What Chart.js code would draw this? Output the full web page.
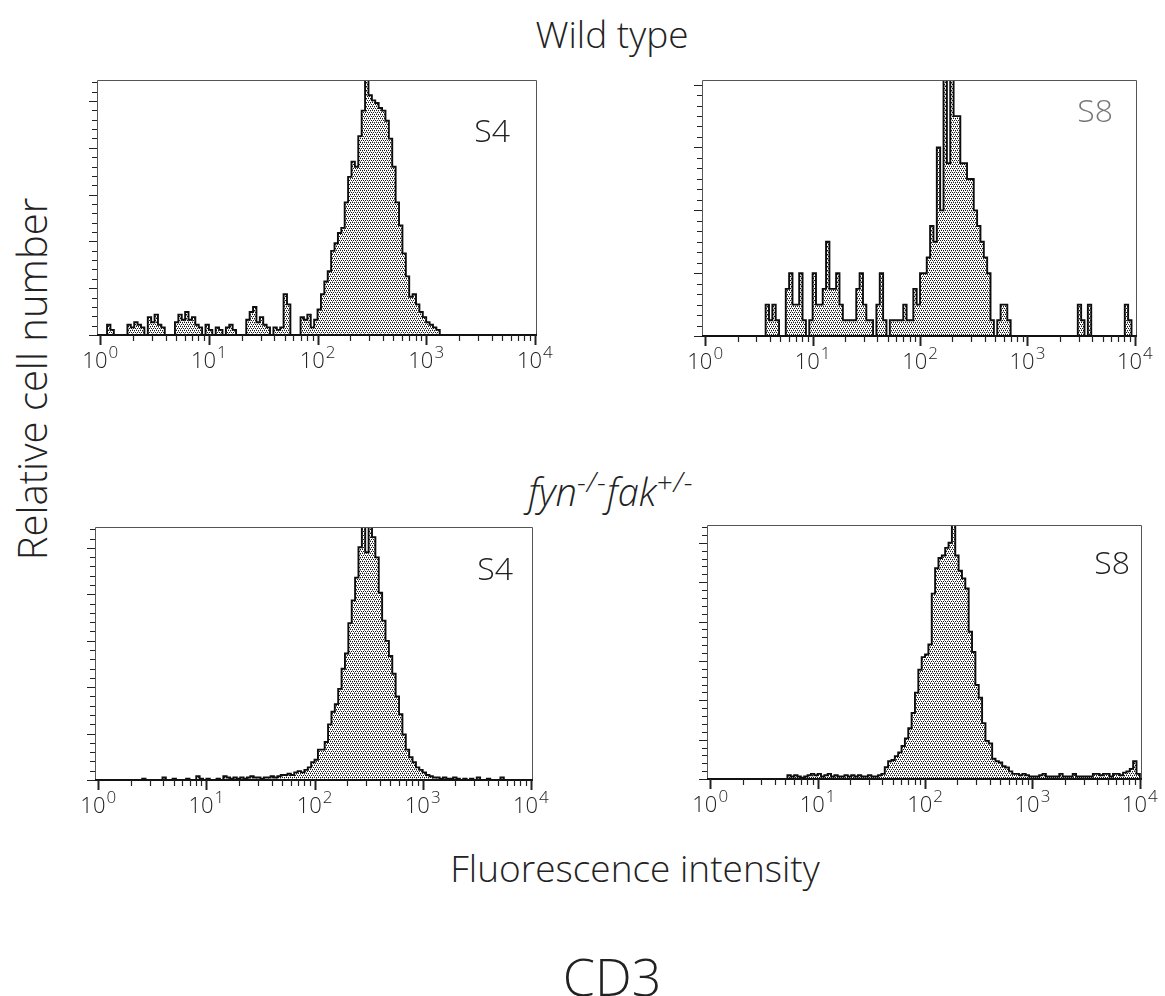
<!DOCTYPE html>
<html>
<head>
<meta charset="utf-8">
<title>CD3 expression, S4 and S8 populations</title>
<script src="https://cdn.jsdelivr.net/npm/chart.js@4.4.1/dist/chart.umd.min.js"></script>
<style>
  html, body { margin: 0; padding: 0; background: #fff; }
  body { width: 1165px; height: 996px; position: relative; overflow: hidden;
         font-family: "Open Sans", "DejaVu Sans", sans-serif; color: #222; }
  .t { position: absolute; white-space: nowrap; line-height: 1; text-align: center; font-weight: 300; }
  .t sup { font-size: 0.74em; vertical-align: 0.5em; line-height: 0; letter-spacing: 0.04em; }
  canvas { position: absolute; }
</style>
</head>
<body>
<div class="t" style="left:312px;width:600px;top:15px;font-size:37px;">Wild type</div>
<div class="t" style="left:311px;width:600px;top:472px;font-size:38px;"><i>fyn<sup>-/-</sup>fak<sup>+/-</sup></i></div>
<div class="t" style="left:-218px;width:500px;top:359px;font-size:40px;transform:rotate(-90deg);">Relative cell number</div>
<div class="t" style="left:335px;width:600px;top:849px;font-size:37px;">Fluorescence intensity</div>
<div class="t" style="left:312px;width:600px;top:950px;font-size:52px;">CD3</div>

<script>
// Histogram channels: 32 channels per decade over four decades (10^0 .. 10^4)
const BINS_PER_DECADE = 32;

// Decade tick exponents and minor tick multipliers for the log axis
const decadeExponents = [0, 1, 2, 3, 4];
const minorMultipliers = [2, 3, 4, 5, 6, 7, 8, 9];

// Wild type, S4 (relative height, 100 = full frame)
const wtS4Counts = [
  0, 0, 4, 2, 0, 0, 0, 0, 4, 3,
  5, 4, 3, 0, 7, 5, 8, 4, 3, 0,
  0, 0, 5, 8, 6, 9, 6, 7, 4, 3,
  0, 4, 2, 0, 3, 2, 0, 3, 4, 2,
  0, 0, 0, 6, 9, 11, 5, 7, 4, 3,
  0, 3, 2, 3, 16, 12, 0, 0, 0, 7,
  6, 8, 3, 6, 10, 16, 21, 25, 33, 36,
  40, 42, 52, 62, 68, 66, 78, 88, 104, 94,
  92, 91, 89, 88, 84, 77, 66, 52, 43, 32,
  23, 15, 16, 12, 9, 7, 5, 4, 3, 2,
  0, 0, 0, 0, 0, 0, 0, 0, 0, 0,
  0, 0, 0, 0, 0, 0, 0, 0, 0, 0,
  0, 0, 0, 0, 0, 0, 0, 0
];

// Wild type, S8 (cell counts per channel)
const wtS8Counts = [
  0, 0, 0, 0, 0, 0, 0, 0, 0, 0,
  0, 0, 0, 0, 0, 0, 0, 0, 2, 1,
  2, 1, 0, 0, 3, 4, 2, 2, 4, 1,
  0, 1, 4, 2, 2, 3, 6, 3, 3, 4,
  2, 1, 1, 1, 1, 3, 4, 2, 1, 1,
  0, 2, 4, 1, 0, 1, 1, 1, 1, 2,
  1, 1, 3, 2, 4, 4, 5, 7, 6, 12,
  8, 20, 11, 20, 14, 14, 11, 11, 10, 10,
  8, 7, 6, 5, 4, 1, 0, 1, 2, 2,
  1, 0, 0, 0, 0, 0, 0, 0, 0, 0,
  0, 0, 0, 0, 0, 0, 0, 0, 0, 0,
  0, 2, 1, 0, 2, 0, 0, 0, 0, 0,
  0, 0, 0, 0, 0, 2, 1, 0
];

// fyn-/- fak+/-, S4 (relative height)
const dkS4Counts = [
  0, 0, 0, 0, 0, 0, 0, 0, 0, 0,
  0, 0, 0, 0.5, 0, 0, 0, 0, 0, 1,
  0, 0, 0.5, 0, 0, 0, 0.5, 0, 0, 1.5,
  0.5, 0, 0.5, 0, 0, 0.5, 0, 1.5, 1, 0.5,
  1, 0.5, 1, 0.5, 1, 1.5, 1, 1, 0.5, 1,
  1, 1.5, 1, 1.5, 2, 2, 2.5, 2, 3, 3.5,
  3, 4, 5, 7, 8, 12, 12, 15, 22, 27,
  30, 36, 44, 50, 62, 71, 80, 92, 110, 90,
  110, 96, 88, 74, 63, 55, 49, 42, 33, 26,
  18, 12, 9, 7, 5, 4, 3, 2, 1.5, 1,
  1, 0.5, 1, 0.5, 0.5, 1, 0.5, 0, 0.5, 0,
  0.5, 0, 1, 0, 0, 0.5, 0, 0, 0, 1,
  0, 0, 0, 0, 0, 0, 0, 0
];

// fyn-/- fak+/-, S8 (relative height)
const dkS8Counts = [
  0, 0, 0, 0, 0, 0, 0, 0, 0, 0,
  0, 0, 0, 0, 0, 0, 0, 0, 0, 0,
  0, 0, 0, 1.5, 1, 1.5, 1, 0.5, 1, 1.5,
  2, 1.5, 2, 1, 1.5, 2, 1, 1.5, 1, 1,
  1.5, 1, 1.5, 1, 1.5, 1, 1, 1.5, 1, 1,
  1.5, 2, 4.6, 7, 7.5, 9, 10.5, 13, 16, 20,
  26, 34, 43, 48, 49, 53, 73, 83, 87, 88,
  91, 93, 102, 88, 82, 79, 75, 58, 50, 37,
  32, 22, 15, 14, 8, 7, 6.5, 5, 4.5, 3,
  2, 2, 1.5, 2, 1.5, 1, 1, 1, 1.5, 2,
  1, 1, 1, 1, 2, 1, 1, 1, 2, 1,
  1, 1, 1, 1, 2, 2, 1.5, 2, 2, 1,
  2, 2, 1.5, 2.5, 3, 4, 7, 2
];

// Frame placement of each panel on the page (left, top, right, bottom)
const panels = [
  { counts: wtS4Counts, box: [97, 80, 537, 335],  yMax: 100,  yStep: 3.67,  yMajorEvery: 5,
    tag: 'S4', tagDx: -27, tagDy: 62, tagColor: '#222' },
  { counts: wtS8Counts, box: [702, 80, 1137, 336], yMax: 16.3, yStep: 0.667, yMajorEvery: 6,
    tag: 'S8', tagDx: -24, tagDy: 42, tagColor: '#777' },
  { counts: dkS4Counts, box: [95, 527, 533, 780],  yMax: 100,  yStep: 3.67,  yMajorEvery: 5,
    tag: 'S4', tagDx: -20, tagDy: 53, tagColor: '#222' },
  { counts: dkS8Counts, box: [707, 525, 1142, 779], yMax: 100,  yStep: 3.1,   yMajorEvery: 5,
    tag: 'S8', tagDx: -12, tagDy: 49, tagColor: '#222' }
];

const PAD = { left: 50, right: 50, top: 20, bottom: 42 };
const X_MIN = Math.pow(10, -0.03);
const X_MAX = Math.pow(10, 4.02);
const FONT = '"Open Sans", "DejaVu Sans", sans-serif';

// Step outline points: each channel value holds from its left edge to the next channel
function channelPoints(counts) {
  const pts = counts.map((v, i) => ({ x: Math.pow(10, i / BINS_PER_DECADE), y: v }));
  pts.push({ x: Math.pow(10, counts.length / BINS_PER_DECADE), y: 0 });
  return pts;
}

// Fine dot screen used to shade the histogram area
function stipple(ctx) {
  const tile = document.createElement('canvas');
  tile.width = 4; tile.height = 4;
  const g = tile.getContext('2d');
  g.fillStyle = '#ffffff';
  g.fillRect(0, 0, 4, 4);
  g.fillStyle = '#9a9a9a';
  [[1, 1], [3, 3]].forEach(([i, j]) => g.fillRect(i, j, 1, 1));
  g.fillStyle = '#161616';
  [[0, 0], [2, 0], [1, 2], [3, 2]].forEach(([i, j]) => g.fillRect(i, j, 1, 1));
  return ctx.createPattern(tile, 'repeat');
}

// Frame, outward ticks, decade labels and the population tag
const cytoFrame = {
  id: 'cytoFrame',
  afterDatasetsDraw(chart, args, opts) {
    const { ctx, chartArea: a } = chart;
    const xs = chart.scales.x, ys = chart.scales.y;
    ctx.save();

    ctx.strokeStyle = '#555';
    ctx.lineWidth = 1;
    ctx.beginPath();
    ctx.moveTo(a.left + 0.5, a.bottom);
    ctx.lineTo(a.left + 0.5, a.top + 0.5);
    ctx.lineTo(a.right - 0.5, a.top + 0.5);
    ctx.lineTo(a.right - 0.5, a.bottom);
    ctx.stroke();

    ctx.strokeStyle = '#111';
    ctx.lineWidth = 2;
    ctx.beginPath();
    ctx.moveTo(a.left, a.bottom);
    ctx.lineTo(a.right, a.bottom);
    ctx.stroke();

    // y ticks, pointing out to the left
    ctx.lineWidth = 1;
    ctx.strokeStyle = '#222';
    const n = Math.floor(ys.max / opts.yStep + 1e-6);
    for (let k = 0; k <= n; k++) {
      const py = Math.round(ys.getPixelForValue(k * opts.yStep)) + 0.5;
      const len = (k % opts.yMajorEvery === 0) ? 8 : 5;
      ctx.beginPath();
      ctx.moveTo(a.left, py);
      ctx.lineTo(a.left - len, py);
      ctx.stroke();
    }

    // x ticks, pointing down
    decadeExponents.forEach((e) => {
      const px = Math.round(xs.getPixelForValue(Math.pow(10, e))) + 0.5;
      ctx.lineWidth = 2;
      ctx.beginPath();
      ctx.moveTo(px, a.bottom);
      ctx.lineTo(px, a.bottom + 10);
      ctx.stroke();
      if (e < 4) {
        ctx.lineWidth = 1.2;
        minorMultipliers.forEach((m) => {
          const qx = Math.round(xs.getPixelForValue(m * Math.pow(10, e))) + 0.5;
          ctx.beginPath();
          ctx.moveTo(qx, a.bottom);
          ctx.lineTo(qx, a.bottom + 6);
          ctx.stroke();
        });
      }
    });

    // decade labels: "10" with a raised exponent
    ctx.fillStyle = '#222';
    ctx.textAlign = 'left';
    ctx.textBaseline = 'alphabetic';
    decadeExponents.forEach((e) => {
      const px = xs.getPixelForValue(Math.pow(10, e));
      ctx.font = '300 22px ' + FONT;
      const w1 = ctx.measureText('10').width;
      ctx.font = '300 17px ' + FONT;
      const w2 = ctx.measureText(String(e)).width;
      const x0 = px - (w1 + w2 + 1) / 2;
      ctx.font = '300 22px ' + FONT;
      ctx.fillText('10', x0, a.bottom + 33);
      ctx.font = '300 17px ' + FONT;
      ctx.fillText(String(e), x0 + w1 + 1, a.bottom + 23);
    });

    // population tag
    ctx.font = '300 32px ' + FONT;
    ctx.textAlign = 'right';
    ctx.fillStyle = opts.tagColor;
    ctx.fillText(opts.tag, a.right + opts.tagDx, a.top + opts.tagDy);

    ctx.restore();
  }
};

panels.forEach((p) => {
  const [l, t, r, b] = p.box;
  const cv = document.createElement('canvas');
  cv.width = (r - l) + PAD.left + PAD.right;
  cv.height = (b - t) + PAD.top + PAD.bottom;
  cv.style.left = (l - PAD.left) + 'px';
  cv.style.top = (t - PAD.top) + 'px';
  cv.style.width = cv.width + 'px';
  cv.style.height = cv.height + 'px';
  document.body.appendChild(cv);
  const ctx = cv.getContext('2d');

  new Chart(ctx, {
    type: 'line',
    data: {
      datasets: [{
        data: channelPoints(p.counts),
        stepped: 'before',
        fill: 'origin',
        backgroundColor: stipple(ctx),
        borderColor: '#0d0d0d',
        borderWidth: 1.9,
        pointRadius: 0,
        tension: 0,
        clip: { left: 2, right: 2, top: 0, bottom: 2 }
      }]
    },
    options: {
      responsive: false,
      devicePixelRatio: 1,
      animation: false,
      events: [],
      layout: { padding: PAD },
      plugins: {
        legend: { display: false },
        tooltip: { enabled: false },
        cytoFrame: { yStep: p.yStep, yMajorEvery: p.yMajorEvery, tag: p.tag,
                     tagDx: p.tagDx, tagDy: p.tagDy, tagColor: p.tagColor }
      },
      scales: {
        x: { type: 'logarithmic', display: false, min: X_MIN, max: X_MAX },
        y: { type: 'linear', display: false, min: 0, max: p.yMax }
      }
    },
    plugins: [cytoFrame]
  });
});
</script>
</body>
</html>
